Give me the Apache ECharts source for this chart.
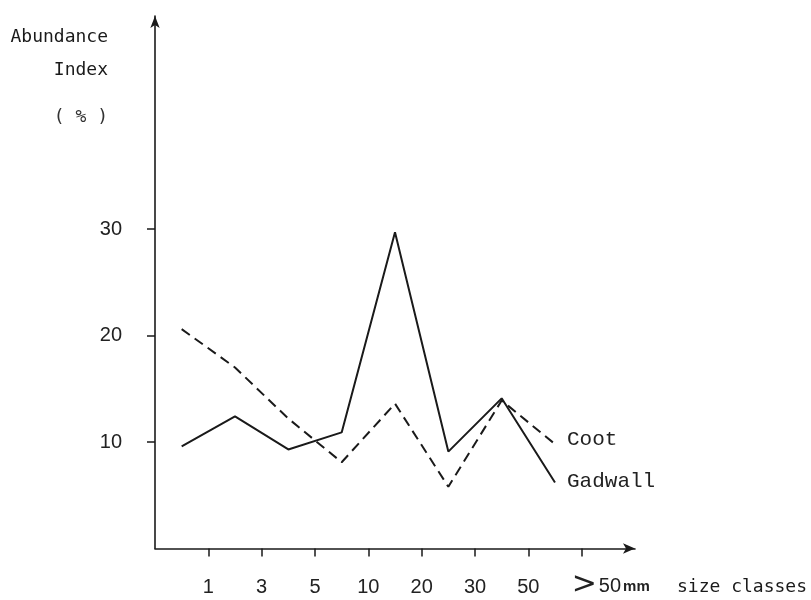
<!DOCTYPE html>
<html>
<head>
<meta charset="utf-8">
<script src="https://cdn.jsdelivr.net/npm/echarts@6/dist/echarts.min.js"></script>
<style>html,body{margin:0;padding:0;background:#fff;}#c{width:811px;height:600px;}</style>
</head>
<body>
<div id="c"></div>
<script>
// Size classes (tick labels at class boundaries)
const sizeLabels = ['1', '3', '5', '10', '20', '30', '50', '>50 mm'];
// Class midpoints (between boundary ticks)
const classPos = [0.5, 1.5, 2.5, 3.5, 4.5, 5.5, 6.5, 7.5];
// Abundance index (%)
const gadwall = [9.6, 12.4, 9.3, 10.9, 29.7, 9.1, 14.1, 6.2];
const coot = [20.6, 17.0, 12.2, 8.1, 13.6, 5.8, 13.9, 9.8];
const yTicks = [10, 20, 30];
const xTicks = [1, 2, 3, 4, 5, 6, 7, 8];

const ink = '#1a1a1a';
const numFont = 'Liberation Sans Narrow, Liberation Sans, sans-serif';
const chart = echarts.init(document.getElementById('c'));
const pair = arr => arr.map((v, i) => [classPos[i], v]);

chart.setOption({
  animation: false,
  backgroundColor: '#fff',
  grid: { left: 155, right: 176, top: 16, bottom: 51.5, outerBoundsMode: 'none' },
  xAxis: {
    type: 'value', min: 0, max: 9,
    axisLine: { show: true, symbol: ['none', 'arrow'], symbolSize: [8, 12], lineStyle: { color: ink, width: 1.6 } },
    axisTick: { show: true, customValues: xTicks, length: 8, lineStyle: { color: ink, width: 1.5 } },
    axisLabel: {
      customValues: xTicks, margin: 29, color: '#222',
      fontFamily: numFont, fontSize: 20,
      formatter: v => {
        const s = sizeLabels[Math.round(v) - 1] || '';
        return s.startsWith('>') ? '' : s;
      }
    },
    splitLine: { show: false }
  },
  yAxis: {
    type: 'value', min: 0, max: 50,
    axisLine: { show: true, symbol: ['none', 'arrow'], symbolSize: [7, 12], lineStyle: { color: ink, width: 1.6 } },
    axisTick: { show: true, customValues: yTicks, length: 8, lineStyle: { color: ink, width: 1.5 } },
    axisLabel: {
      customValues: yTicks, margin: 33, color: '#222',
      fontFamily: numFont, fontSize: 20
    },
    splitLine: { show: false }
  },
  graphic: [
    { type: 'text', style: { text: 'Abundance', x: 108, y: 37, align: 'right', verticalAlign: 'middle', font: '18px "DejaVu Sans Mono", monospace', fill: '#1a1a1a' } },
    { type: 'text', style: { text: 'Index', x: 108, y: 70, align: 'right', verticalAlign: 'middle', font: '18px "DejaVu Sans Mono", monospace', fill: '#1a1a1a' } },
    { type: 'text', style: { text: '( % )', x: 108, y: 117, align: 'right', verticalAlign: 'middle', font: '18px "DejaVu Sans Mono", monospace', fill: '#333' } },
    { type: 'text', style: { text: 'size classes', x: 677, y: 587, align: 'left', verticalAlign: 'middle', font: '18px "DejaVu Sans Mono", monospace', fill: '#1a1a1a' } }
  ],
  series: [
    {
      name: 'Gadwall', type: 'line', data: pair(gadwall), symbol: 'none',
      lineStyle: { color: ink, width: 2 },
      endLabel: { show: true, formatter: '{a}', distance: 12, offset: [0, -1], color: '#222', fontFamily: 'Liberation Mono, monospace', fontSize: 21 }
    },
    {
      name: 'Coot', type: 'line', data: pair(coot), symbol: 'none',
      lineStyle: { color: ink, width: 2, type: [10, 6] },
      endLabel: { show: true, formatter: '{a}', distance: 12, offset: [0, -5], color: '#222', fontFamily: 'Liberation Mono, monospace', fontSize: 21 }
    }
  ]
});

// Last size-class label (">50 mm"), placed at its tick through the axis scale
const lastIdx = sizeLabels.length - 1;
const px = chart.convertToPixel({ xAxisIndex: 0 }, xTicks[lastIdx]);
const py = chart.convertToPixel({ yAxisIndex: 0 }, 0);
chart.setOption({
  graphic: [{
    type: 'text', id: 'lastLabel',
    style: {
      text: '{gt|>}{n|50}{mm|mm}', x: px - 10, y: py + 38, align: 'left', verticalAlign: 'middle',
      rich: {
        gt: { fontSize: 30, fontFamily: 'DejaVu Sans', fill: '#222', padding: [0, 2, 2, 0] },
        n: { fontSize: 20, fontFamily: numFont, fill: '#222' },
        mm: { fontSize: 15, fontWeight: 'bold', fontFamily: numFont, fill: '#222', padding: [0, 0, 0, 2] }
      }
    }
  }]
});
</script>
</body>
</html>
